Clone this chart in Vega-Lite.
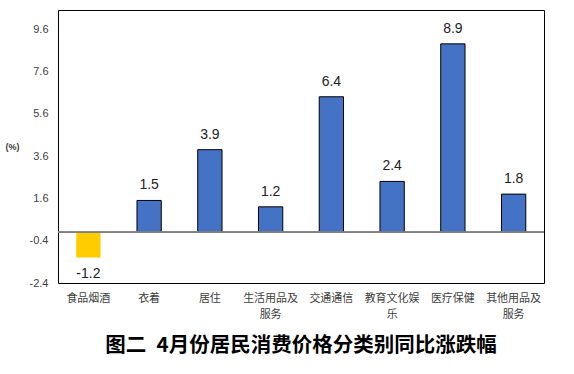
{
  "$schema": "https://vega.github.io/schema/vega-lite/v6.json",
  "autosize": "none",
  "width": 486,
  "height": 273,
  "padding": {"left": 58, "top": 10, "right": 30, "bottom": 91},
  "background": "white",
  "config": {
    "view": {"stroke": "black", "strokeWidth": 1},
    "font": "Liberation Sans, Noto Sans CJK SC"
  },
  "title": {
    "text": "图二\u20024月份居民消费价格分类别同比涨跌幅",
    "orient": "bottom",
    "anchor": "middle",
    "offset": 17,
    "fontSize": 20.5,
    "fontWeight": "bold",
    "font": "Noto Sans CJK SC",
    "color": "black"
  },
  "data": {
    "values": [
      {"category": "食品烟酒", "value": -1.2},
      {"category": "衣着", "value": 1.5},
      {"category": "居住", "value": 3.9},
      {"category": "生活用品及服务", "value": 1.2},
      {"category": "交通通信", "value": 6.4},
      {"category": "教育文化娱乐", "value": 2.4},
      {"category": "医疗保健", "value": 8.9},
      {"category": "其他用品及服务", "value": 1.8}
    ]
  },
  "encoding": {
    "x": {
      "field": "category",
      "type": "nominal",
      "sort": null,
      "scale": {"paddingInner": 0.6, "paddingOuter": 0.3},
      "axis": {
        "title": null,
        "labelAngle": 0,
        "domain": false,
        "ticks": false,
        "labelPadding": 9,
        "labelFontSize": 11,
        "labelColor": "#404040",
        "labelFont": "Noto Sans CJK SC",
        "labelLineHeight": 16,
        "labelExpr": "length(datum.label) > 5 ? [substring(datum.label, 0, 5), substring(datum.label, 5)] : datum.label"
      }
    }
  },
  "layer": [
    {
      "mark": {"type": "bar"},
      "encoding": {
        "y": {
          "field": "value",
          "type": "quantitative",
          "scale": {"domain": [-2.4, 10.5], "nice": false, "zero": false},
          "axis": {
            "values": [-2.4, -0.4, 1.6, 3.6, 5.6, 7.6, 9.6],
            "labelExpr": "toString(datum.value)",
            "grid": false,
            "domain": false,
            "ticks": false,
            "labelPadding": 10,
            "labelFontSize": 11,
            "labelColor": "#404040",
            "title": "(%)",
            "titleAngle": 0,
            "titleFontSize": 9,
            "titleFontWeight": "bold",
            "titleColor": "#404040",
            "titleX": -46,
            "titleY": 141,
            "titleAlign": "center"
          }
        },
        "y2": {"datum": 0},
        "color": {"condition": {"test": "datum.value < 0", "value": "#FFCC00"}, "value": "#4472C4"},
        "stroke": {"condition": {"test": "datum.value < 0", "value": null}, "value": "black"},
        "strokeWidth": {"value": 1}
      }
    },
    {
      "mark": {"type": "rule", "color": "#808080", "strokeWidth": 1},
      "encoding": {"y": {"datum": 0}, "x": {"value": 0}, "x2": {"value": 486}}
    },
    {
      "transform": [{"filter": "datum.value >= 0"}],
      "mark": {"type": "text", "baseline": "bottom", "dy": -8, "fontSize": 14, "color": "#222"},
      "encoding": {"y": {"field": "value", "type": "quantitative"}, "text": {"field": "value", "type": "nominal"}}
    },
    {
      "transform": [{"filter": "datum.value < 0"}],
      "mark": {"type": "text", "baseline": "top", "dy": 9, "fontSize": 14, "color": "#222"},
      "encoding": {"y": {"field": "value", "type": "quantitative"}, "text": {"field": "value", "type": "nominal"}}
    }
  ]
}
